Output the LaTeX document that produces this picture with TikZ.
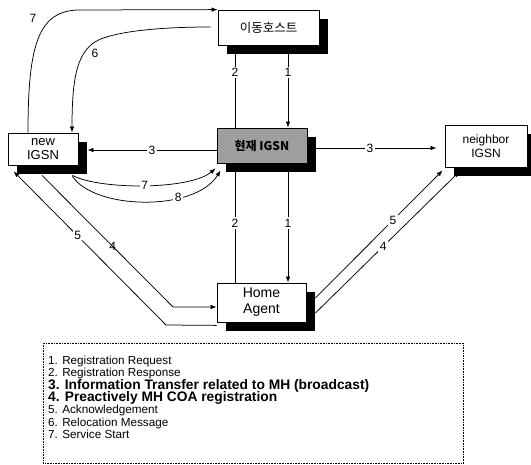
\documentclass[tikz,border=0pt]{standalone}
\usepackage{fontspec}
\setmainfont{Liberation Sans}
\newfontfamily\kr{Noto Sans CJK KR}
\usetikzlibrary{shadows,arrows.meta,calc}
\begin{document}
\begin{tikzpicture}[x=1pt,y=-1pt,
  box/.style={draw, line width=0.8pt, fill=white, rectangle, inner sep=0pt, align=center,
    drop shadow={shadow xshift=9pt, shadow yshift=-9pt, fill=black, opacity=1}},
  arr/.style={line width=0.75pt, -{Latex[length=6pt,width=4.5pt]}},
  lbl/.style={fill=white, inner sep=1.5pt, font=\fontsize{12}{12}\selectfont},
  lblc/.style={inner sep=1pt, font=\fontsize{12}{12}\selectfont},
  legsmall/.style={anchor=base west, inner sep=0pt, font=\fontsize{11.7}{12}\selectfont},
  legbig/.style={anchor=base west, inner sep=0pt, font=\bfseries\fontsize{13.8}{14}\selectfont}]
\useasboundingbox (0,0) rectangle (531,465);
% nodes
\node[box, minimum width=101pt, minimum height=35pt, font=\kr\fontsize{12.5}{14}\selectfont] (mh) at (268.5,27.5) {이동호스트};
\node[box, fill=black!38, minimum width=90pt, minimum height=35pt, font=\kr\bfseries\fontsize{12}{13}\selectfont] (cur) at (262,145.5) {현재 IGSN};
\node[box, minimum width=70pt, minimum height=32pt, font=\fontsize{13}{14}\selectfont] (new) at (43,149) {new\\IGSN};
\node[box, minimum width=82pt, minimum height=42pt, font=\fontsize{12}{14}\selectfont] (nb) at (486,146) {neighbor\\IGSN};
\node[box, minimum width=89pt, minimum height=39pt, font=\fontsize{14}{16}\selectfont] (ha) at (261.5,302.5) {Home\\Agent};
% helper coordinates
\coordinate (xa) at (288,0);
\coordinate (xb) at (235,0);
\coordinate (xc) at (28,0);
\coordinate (xd) at (72,0);
\coordinate (ya) at (0,150);
\coordinate (yb) at (0,148);
\coordinate (yc) at (0,27);
\coordinate (yd) at (0,307);
% vertical connectors
\draw[arr] (mh.south -| xa) -- node[lbl, pos=0.33]{1} (cur.north -| xa);
\draw[arr] (cur.north -| xb) -- node[lbl, pos=0.67]{2} (mh.south -| xb);
\draw[arr] (ha.north -| xb) -- node[lbl]{2} (cur.south -| xb);
\draw[arr] (cur.south -| xa) -- node[lbl]{1} (ha.north -| xa);
% horizontal 3s
\draw[arr] (cur.west |- ya) -- node[lbl]{3} ($(new.east |- ya)+(9,0)$);
\draw[arr] ($(cur.east |- yb)+(8,0)$) -- node[lbl, pos=0.45]{3} ($(nb.west |- yb)+(-8,0)$);
% 7 top
\draw[arr] (new.north -| xc) .. controls (28,45) and (38,10) .. (80,10) -- (mh.north west);
\node[lblc] (l7a) at (33,18) {7};
% 6
\draw[arr] ($(mh.west |- yc)+(-7,0)$) .. controls (150,27) and (105,33) .. (92,44)
   .. controls (78,56) and (72,75) .. (new.north -| xd);
\node[lbl] (l6) at (95,53) {6};
% 7 lower and 8
\draw[arr] ($(new.south east)+(-6,10)$) .. controls (100,190) and (190,190) .. node[lbl]{7} ($(cur.south west)+(-1,5)$);
\draw[arr] ($(new.south east)+(-6,11)$) .. controls (95,210) and (195,212) .. node[lbl, pos=0.68]{8} ($(cur.south west)+(4,7)$);
% 4 and 5 left
\draw[arr] ($(new.south)+(-1,10)$) -- node[lblc, pos=0.54]{4} (173,307) -- (ha.west |- yd);
\draw[arr] ($(ha.south west)+(0,3)$) -- (166,325) -- node[lbl, pos=0.58]{5} ($(new.south west)+(6,6)$);
% 4 and 5 right
\draw[arr] ($(ha.east)+(9,10.5)$) -- node[lbl, pos=0.47]{4} ($(nb.south west)+(15,4)$);
\draw[arr] ($(ha.east)+(9,-4.5)$) -- node[lbl, pos=0.61]{5} ($(nb.south west)+(-2,3)$);
% legend
\node[draw, densely dotted, line width=0.6pt, minimum width=420pt, minimum height=120pt, anchor=north west, inner sep=0pt] (leg) at (43,343) {};
\node[legsmall] (t1) at (48,365) {1. Registration Request};
\node[legsmall] (t2) at (48,377) {2. Registration Response};
\node[legbig] (t3) at (48,389.5) {3. Information Transfer related to MH (broadcast)};
\node[legbig] (t4) at (48,402) {4. Preactively MH COA registration};
\node[legsmall] (t5) at (48,414) {5. Acknowledgement};
\node[legsmall] (t6) at (48,426.5) {6. Relocation Message};
\node[legsmall] (t7) at (48,438.5) {7. Service Start};
\end{tikzpicture}
\end{document}
